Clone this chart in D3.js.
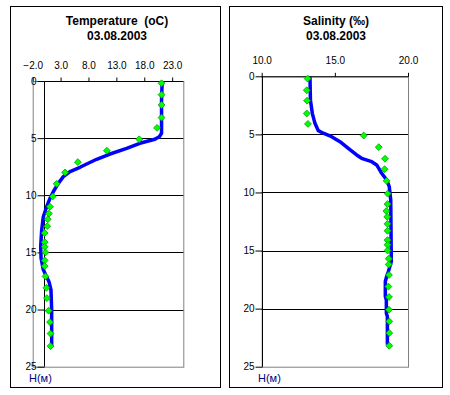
<!DOCTYPE html>
<html><head><meta charset="utf-8">
<script src="https://cdn.jsdelivr.net/npm/d3@7"></script>
<style>body{margin:0;background:#fff}svg{display:block}text{font-family:Arial,"Liberation Sans",sans-serif;white-space:pre}</style>
</head><body><svg id="c" width="450" height="395"></svg>
<script>
// Observed points (depth m)
const ptDepth = [0.2,1.2,2.1,3.2,4.1,5.1,6.1,7.1,8.0,9.0,10.1,11.0,11.6,12.1,12.7,13.3,14.1,14.5,15.0,15.7,16.2,17.1,18.1,19.0,20.1,21.1,22.1,23.2];
const tempPts = [21.1,21.1,21.1,21.1,20.3,17.1,11.3,6.1,3.8,2.3,1.6,1.1,0.9,0.7,0.6,0.15,0.15,0.15,0.3,0.15,0.15,0.3,0.45,0.55,0.85,1.1,1.2,1.2];
const salPts = [13.14,13.08,13.1,13.08,13.16,16.97,18.0,18.43,18.4,18.54,18.61,18.6,18.52,18.58,18.6,18.6,18.6,18.6,18.6,18.68,18.68,18.7,18.66,18.7,18.7,18.72,18.72,18.72];
// Model profiles
const tempLineDepth = [0.2,1.7,4.58,4.87,5.1,5.45,5.89,6.39,6.85,7.26,7.55,7.93,8.37,8.96,9.69,10.27,11.0,11.88,13.05,14.5,15.5,16.5,16.97,17.56,18.29,20.0,23.25];
const tempLine = [21.2,21.1,21.1,20.7,19.9,17.2,14.85,11.86,9.47,7.68,6.48,4.69,3.49,2.59,1.69,1.1,0.5,-0.1,-0.39,-0.57,-0.5,-0.1,0.33,0.92,1.28,1.4,1.4];
const salLineDepth = [0.03,2.04,3.19,4.05,4.68,4.9,5.2,5.63,6.2,6.77,7.06,7.35,7.63,8.35,8.92,9.5,10.65,15.96,16.24,16.8,17.24,17.67,18.96,19.25,20.4,20.68,23.12];
const salLine = [13.3,13.33,13.46,13.64,13.87,14.21,14.78,15.35,15.92,16.49,16.83,17.52,17.86,18.2,18.54,18.72,18.82,18.86,18.79,18.66,18.54,18.45,18.45,18.52,18.52,18.59,18.59];
const depthTicks = [0,5,10,15,20,25];
const tempTicks = [-2,3,8,13,18,23];
const salTicks = [10,15,20];

const svg = d3.select("#c");

function panel(o){
  const g = svg.append("g");
  g.append("rect").attr("x",o.box[0]+0.5).attr("y",o.box[1]+0.5).attr("width",o.box[2]).attr("height",o.box[3])
    .attr("fill","#fff").attr("stroke","#000");
  const x = d3.scaleLinear().domain(o.xd).range([o.left,o.right]);
  const y = d3.scaleLinear().domain([0,25]).range([o.top,o.bottom]);
  const ax = x(o.axisAt);
  g.append("rect").attr("x",o.left+0.5).attr("y",o.top+0.5).attr("width",o.right-o.left).attr("height",o.bottom-o.top)
    .attr("fill","none").attr("stroke","#808080");
  g.selectAll(".gl").data(depthTicks.filter(d=>d>0&&d<25)).join("line")
    .attr("x1",ax).attr("x2",o.right).attr("y1",d=>Math.round(y(d))+0.5).attr("y2",d=>Math.round(y(d))+0.5)
    .attr("stroke","#000");
  g.append("line").attr("x1",ax).attr("x2",o.right).attr("y1",o.top+0.5).attr("y2",o.top+0.5).attr("stroke","#000");
  const xa = g.append("g").attr("transform",`translate(0,${o.top+0.5})`)
    .call(d3.axisTop(x).tickValues(o.xt).tickSize(4).tickFormat(d3.format(".1f")));
  xa.select(".domain").remove();
  xa.selectAll("line").attr("stroke","#000");
  xa.selectAll("text").attr("font-size",10).attr("fill","#000").attr("y",-13).attr("dy","0");
  const ya = g.append("g").attr("transform",`translate(${Math.round(ax)+0.5},0)`)
    .call(d3.axisLeft(y).tickValues(depthTicks).tickSize(7).tickPadding(1).tickFormat(d3.format("d")));
  ya.select(".domain").attr("stroke","#000").attr("d",`M0,${o.top}V${o.bottom}`);
  ya.selectAll("line").attr("stroke","#000");
  ya.selectAll("text").attr("font-size",10).attr("fill","#000");
  const lineGen = d3.line().x(d=>x(d[1])).y(d=>y(d[0]));
  g.append("path").datum(o.ld.map((d,i)=>[d,o.lv[i]])).attr("d",lineGen)
    .attr("fill","none").attr("stroke","#0000ff").attr("stroke-width",3.5).attr("stroke-linejoin","round");
  g.selectAll(".pt").data(ptDepth.map((d,i)=>[d,o.pv[i]])).join("path")
    .attr("d",d3.symbol().type(d3.symbolDiamond2).size(30))
    .attr("transform",d=>`translate(${x(d[1])},${y(d[0])})`)
    .attr("fill","#00ff00").attr("stroke","#00a000").attr("stroke-width",0.8);
  g.append("text").attr("x",o.cx).attr("y",25).attr("text-anchor","middle").attr("font-size",12).attr("font-weight","bold").text(o.title);
  g.append("text").attr("x",o.cx).attr("y",40).attr("text-anchor","middle").attr("font-size",12).attr("font-weight","bold").text("03.08.2003");
  g.append("text").attr("x",o.hx).attr("y",382).attr("font-size",11).attr("fill","#000080").text("H(м)");
}

panel({box:[10,6,210,381],xd:[-2,25],xt:tempTicks,left:32.7,right:183.3,top:81,bottom:366.7,axisAt:0,
  ld:tempLineDepth,lv:tempLine,pv:tempPts,title:"Temperature  (oC)",cx:117,hx:29});
panel({box:[229,6,213,381],xd:[10,20],xt:salTicks,left:261.7,right:408,top:76.3,bottom:366.7,axisAt:10,
  ld:salLineDepth,lv:salLine,pv:salPts,title:"Salinity (‰)",cx:336,hx:258});
</script></body></html>
